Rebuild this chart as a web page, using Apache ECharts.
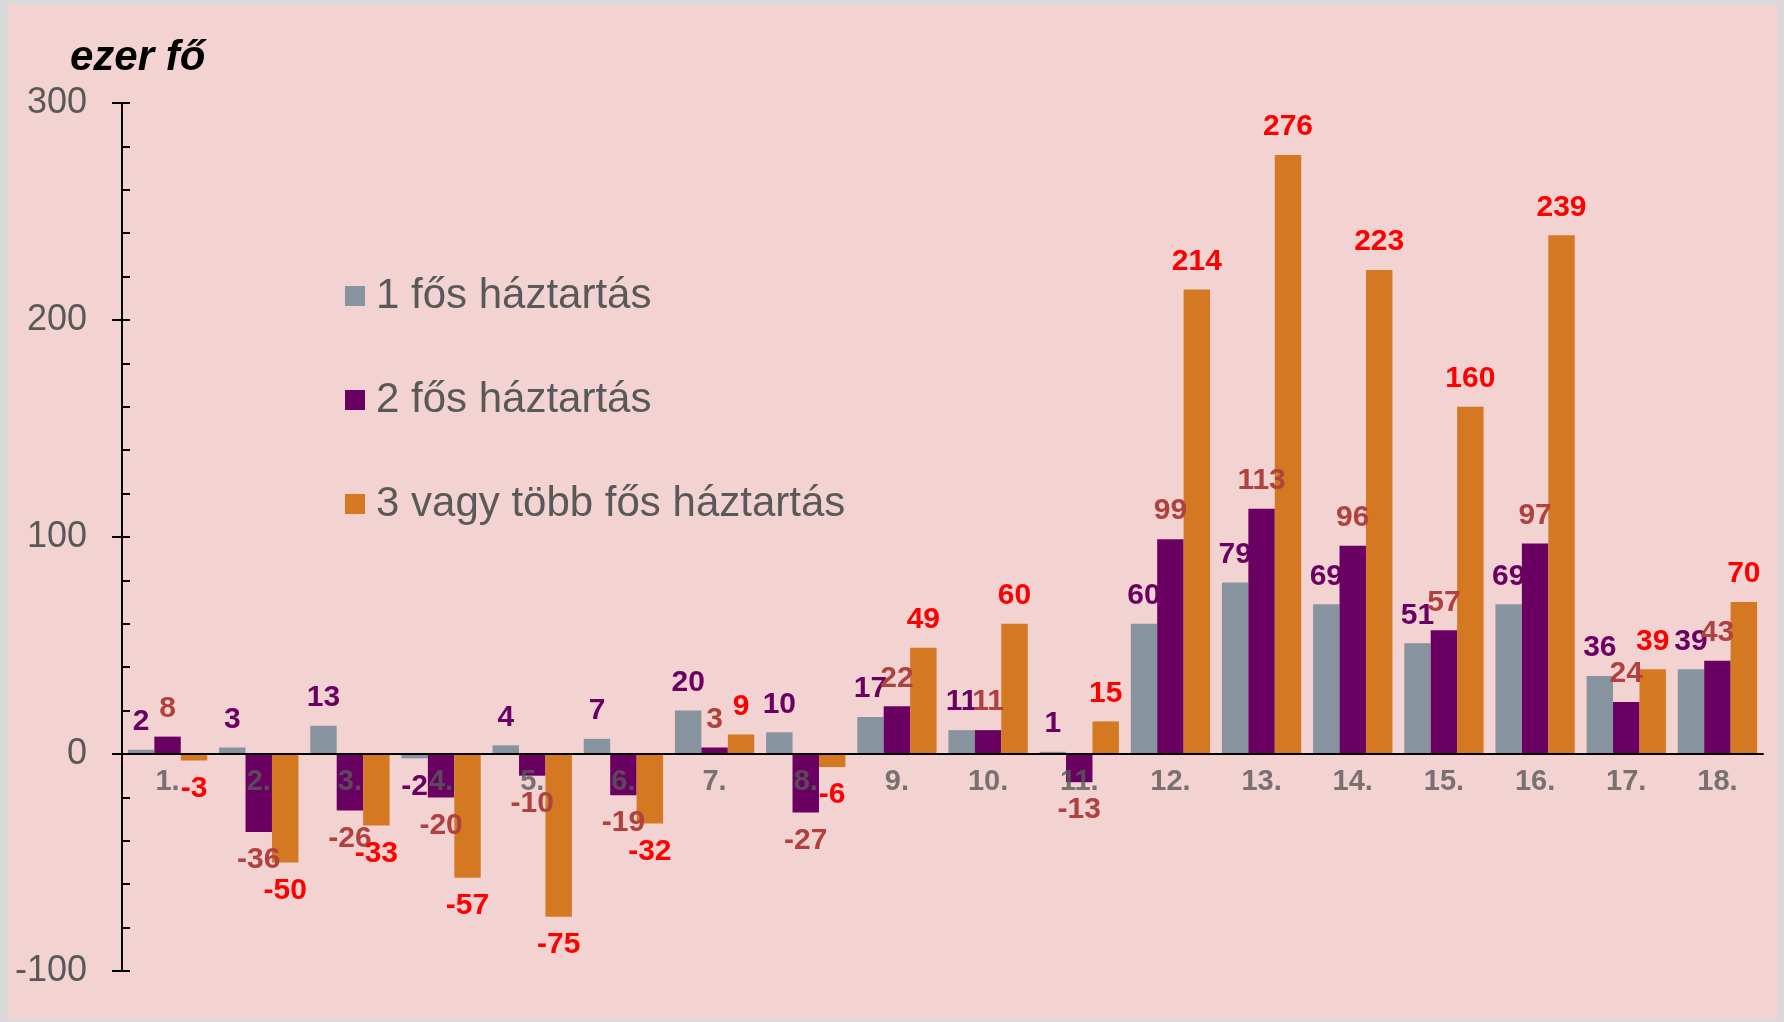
<!DOCTYPE html>
<html>
<head>
<meta charset="utf-8">
<title>háztartások</title>
<style>
  html, body { margin: 0; padding: 0; background: #d9d9d9; }
  #main { position: absolute; left: 8px; top: 4px; width: 1770px; height: 1015px; background: #f2d3d2; }
</style>
</head>
<body>
<div id="main"></div>
<script src="https://cdn.jsdelivr.net/npm/echarts@6/dist/echarts.min.js"></script>
<script>
var categories = ['1.', '2.', '3.', '4.', '5.', '6.', '7.', '8.', '9.', '10.', '11.', '12.', '13.', '14.', '15.', '16.', '17.', '18.'];
var egyFos = [2, 3, 13, -2, 4, 7, 20, 10, 17, 11, 1, 60, 79, 69, 51, 69, 36, 39];
var ketFos = [8, -36, -26, -20, -10, -19, 3, -27, 22, 11, -13, 99, 113, 96, 57, 97, 24, 43];
var haromFos = [-3, -50, -33, -57, -75, -32, 9, -6, 49, 60, 15, 214, 276, 223, 160, 239, 39, 70];
var seriesNames = ['1 fős háztartás', '2 fős háztartás', '3 vagy több fős háztartás'];

var font = 'Arial, "Liberation Sans", sans-serif';

// pozitív érték fölé, negatív alá kerül a címke
function withLabels(arr) {
  return arr.map(function (v) {
    return { value: v, label: { position: v >= 0 ? 'top' : 'bottom' } };
  });
}

function barSeries(name, arr, color, labelColor) {
  return {
    name: name,
    type: 'bar',
    yAxisIndex: 0,
    barGap: 0,
    barCategoryGap: '13%',
    itemStyle: { color: color },
    label: {
      show: true,
      distance: 13,
      color: labelColor,
      fontFamily: font,
      fontWeight: 'bold',
      fontSize: 30
    },
    data: withLabels(arr)
  };
}

var chart = echarts.init(document.getElementById('main'));
var option = {
  animation: false,
  textStyle: { fontFamily: font },
  title: {
    text: 'ezer fő',
    left: 57,
    top: 28,
    textStyle: { fontFamily: font, fontSize: 42, fontWeight: 'bold', fontStyle: 'italic', color: '#000' }
  },
  legend: {
    orient: 'vertical',
    left: 332,
    top: 266,
    itemWidth: 20,
    itemHeight: 20,
    itemGap: 62,
    icon: 'rect',
    textStyle: { fontFamily: font, fontSize: 42, color: '#595959', lineHeight: 40, padding: [0, 0, 0, 6] },
    data: seriesNames
  },
  grid: { left: 114, right: 15, top: 99, bottom: 48 },
  xAxis: {
    type: 'category',
    data: categories,
    z: 10,
    axisLine: { onZero: true, onZeroAxisIndex: 0, lineStyle: { color: '#000', width: 2 } },
    axisTick: { show: false },
    axisLabel: { show: false }
  },
  yAxis: [{
    type: 'value',
    min: -100,
    max: 300,
    interval: 100,
    axisLine: { show: true, lineStyle: { color: '#000', width: 2 } },
    axisTick: { show: true, length: 10, lineStyle: { color: '#000', width: 2 } },
    axisLabel: { margin: 35, color: '#595959', fontFamily: font, fontSize: 36 },
    splitLine: { show: false }
  }, {
    type: 'value',
    min: -100,
    max: 300,
    interval: 20,
    position: 'left',
    axisLine: { show: false },
    axisTick: { show: true, inside: true, length: 8, lineStyle: { color: '#000', width: 2 } },
    axisLabel: { show: false },
    splitLine: { show: false }
  }],
  series: [
    barSeries(seriesNames[0], egyFos, '#8794a0', '#6b0063'),
    barSeries(seriesNames[1], ketFos, '#6b0063', '#b0413e'),
    barSeries(seriesNames[2], haromFos, '#d47922', '#ff0000'),
    {
      // kategóriacímkék a nullvonal alatt, az oszlopok fölé rajzolva
      type: 'scatter',
      z: 10,
      symbolSize: 0,
      silent: true,
      label: {
        show: true,
        position: 'bottom',
        distance: 13,
        formatter: function (p) { return p.name; },
        color: '#595959',
        fontFamily: font,
        fontWeight: 'bold',
        fontSize: 29
      },
      data: categories.map(function (c) { return [c, 0]; })
    }
  ]
};
chart.setOption(option);
</script>
</body>
</html>
